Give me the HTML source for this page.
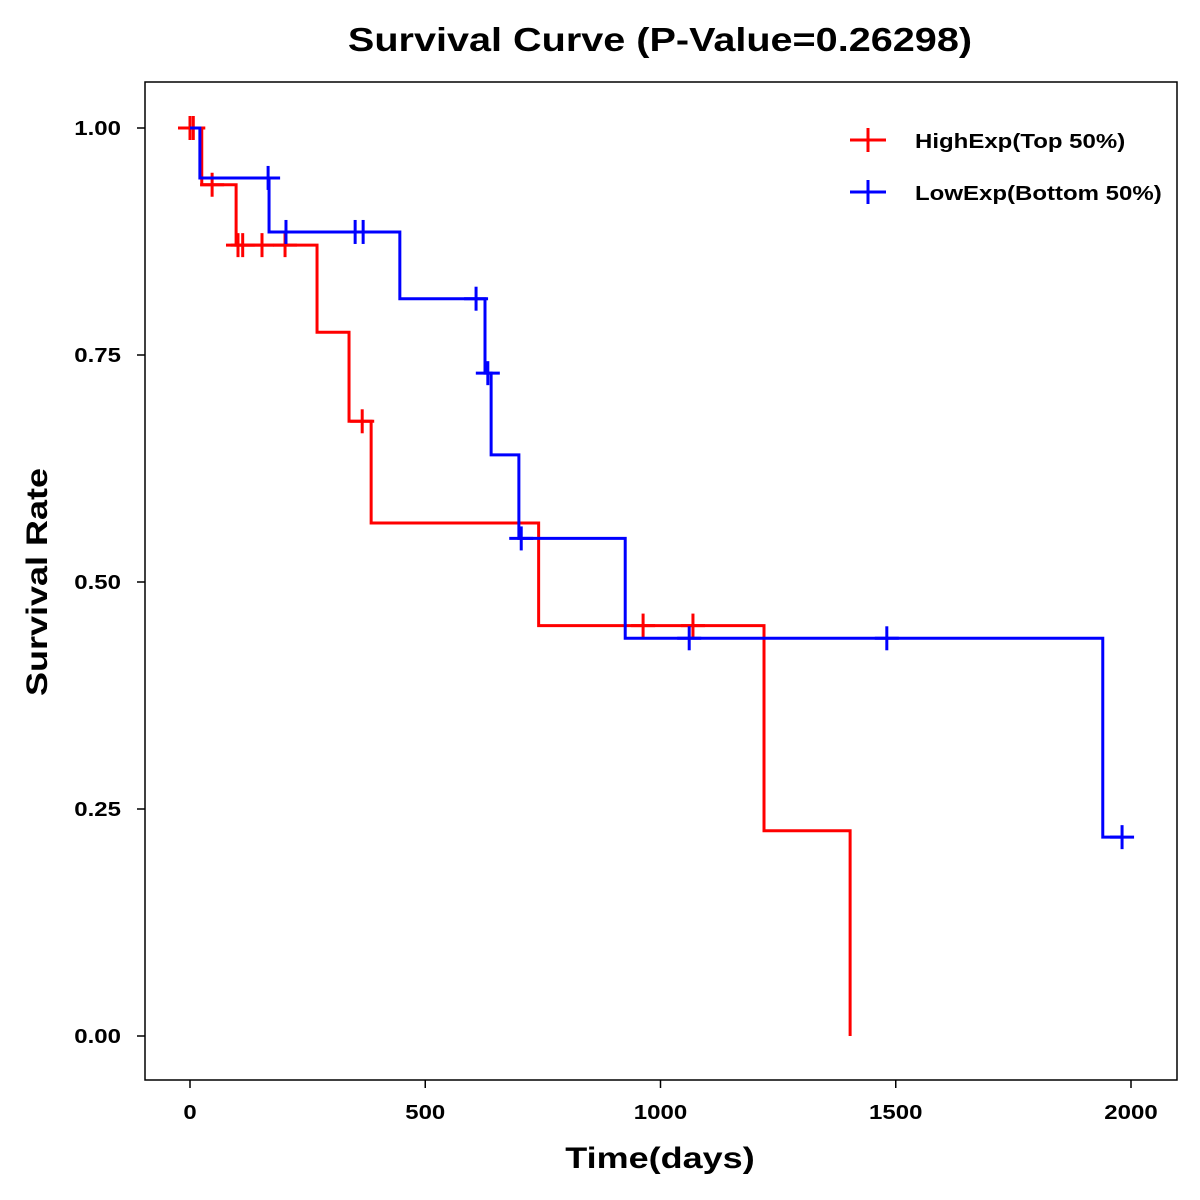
<!DOCTYPE html>
<html><head><meta charset="utf-8"><style>
body{margin:0;background:#fff;overflow:hidden}
svg{display:block}
svg text{font-family:"Liberation Sans",Arial,sans-serif;font-weight:bold}
</style></head><body>
<svg width="1200" height="1200" xmlns="http://www.w3.org/2000/svg">
<rect width="1200" height="1200" fill="#fff"/>
<text x="660" y="51" font-size="33" text-anchor="middle">Survival Curve (P-Value=0.26298)</text>
<rect x="145" y="82" width="1032" height="998" fill="none" stroke="#000" stroke-width="1.5"/>
<g id="axes"></g>
<g id="series"></g>
<text x="660" y="1168" font-size="30" text-anchor="middle">Time(days)</text>
<text x="0" y="0" font-size="30" text-anchor="middle" transform="translate(47,582) rotate(-90)">Survival Rate</text>
<g>
<g>
<line x1="850" y1="140" x2="886" y2="140" stroke="#f00" stroke-width="3"/>
<line x1="868" y1="128" x2="868" y2="152" stroke="#f00" stroke-width="3"/>
<text x="915" y="148" font-size="20">HighExp(Top 50%)</text></g>
<g>
<line x1="850" y1="192" x2="886" y2="192" stroke="#00f" stroke-width="3"/>
<line x1="868" y1="180" x2="868" y2="204" stroke="#00f" stroke-width="3"/>
<text x="915" y="200" font-size="20">LowExp(Bottom 50%)</text></g>
</g>
</svg>
<script>
const xTicks=[0,500,1000,1500,2000];
const yTicks=[0,0.25,0.5,0.75,1];
const yTickLabels=["0.00","0.25","0.50","0.75","1.00"];
const highTimes=[0,25,98,270,338,385,741,1220,1403];
const highSurv=[1,0.9375,0.871,0.775,0.677,0.565,0.452,0.226,0];
const highEnd=1403;
const highCensor=[0,7,47,102,112,153,202,366,963,1069];
const lowTimes=[0,21,168,446,627,640,699,925,1940];
const lowSurv=[1,0.945,0.8855,0.812,0.730,0.640,0.548,0.438,0.219];
const lowEnd=1981;
const lowCensor=[166,204,351,368,608,633,704,1061,1481,1981];
const NS="http://www.w3.org/2000/svg";
const sx=d=>190+d*0.4705;
const sy=v=>1036-v*908;
function mk(t,a,p){const e=document.createElementNS(NS,t);for(const k in a)e.setAttribute(k,a[k]);p.appendChild(e);return e;}
const ax=document.getElementById('axes');
xTicks.forEach(t=>{
 const l=mk('line',{x1:sx(t),x2:sx(t),y1:1080,y2:1088,stroke:'#000','stroke-width':1.5},ax);
 
 
 const tx=mk('text',{x:sx(t),y:1119,'font-size':20,'text-anchor':'middle'},ax);tx.textContent=t;
 
 
});
yTicks.forEach((t,i)=>{
 const l=mk('line',{x1:137,x2:145,y1:sy(t),y2:sy(t),stroke:'#000','stroke-width':1.5},ax);
 
 
 const tx=mk('text',{x:121,y:sy(t)+7,'font-size':20,'text-anchor':'end'},ax);tx.textContent=yTickLabels[i];
 
 
});
const sg=document.getElementById('series');
function survAt(times,surv,t){let v=surv[0];for(let i=0;i<times.length;i++)if(times[i]<=t)v=surv[i];return v;}
function draw(times,surv,end,cens,col,name){
 let d=`M${sx(times[0])},${sy(surv[0])}`;
 for(let i=1;i<times.length;i++)d+=` H${sx(times[i])} V${sy(surv[i])}`;
 d+=` H${sx(end)}`;
 const p=mk('path',{d:d,fill:'none',stroke:col,'stroke-width':3},sg);
 
 
 cens.forEach(c=>{
  const x=sx(c),y=sy(survAt(times,surv,c));
  const g=mk('g',{},sg);
  
  
  mk('line',{x1:x-12,x2:x+12,y1:y,y2:y,stroke:col,'stroke-width':3},g);
  mk('line',{x1:x,x2:x,y1:y-12,y2:y+12,stroke:col,'stroke-width':3},g);
 });
}
draw(highTimes,highSurv,highEnd,highCensor,'#f00','high-exp');
draw(lowTimes,lowSurv,lowEnd,lowCensor,'#00f','low-exp');
document.querySelectorAll('svg text').forEach(t=>{
 const w=t.getComputedTextLength();
 if(w>0){t.setAttribute('textLength',(w*1.2).toFixed(1));t.setAttribute('lengthAdjust','spacingAndGlyphs');}
});
</script>
</body></html>
